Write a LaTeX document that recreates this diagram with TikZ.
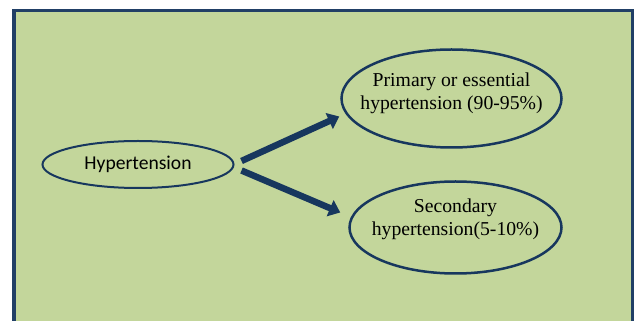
\documentclass[tikz,border=0pt]{standalone}
\usepackage{fontspec}
\setmainfont{Liberation Serif}
\newfontfamily\calfont{Carlito}
\usetikzlibrary{shapes.geometric,arrows.meta,calc}
\definecolor{bgGreen}{HTML}{C3D69B}
\definecolor{frameBlue}{HTML}{213F66}
\definecolor{inkBlue}{HTML}{17375E}
\tikzset{
  ell/.style={ellipse, draw=inkBlue, inner sep=0pt},
  serifText/.style={align=center, font=\fontsize{19.7}{22.8}\selectfont, inner sep=0pt},
  bigArrow/.style={draw=inkBlue, line width=6.5pt, -{Triangle[length=11pt,width=17pt]}}
}
\begin{document}
\begin{tikzpicture}[x=1pt,y=1pt]
  \useasboundingbox (0,0) rectangle (635,321);
  \fill[white] (0,0) rectangle (635,321);
  \begin{scope}
    \clip (0,0) rectangle (635,321);
    \fill[bgGreen] (14,-10) rectangle (632.5,310.7);
    \draw[frameBlue, line width=3.3pt] (14,-10) -- (14,310.7) -- (632.5,310.7) -- (632.5,-10);
  \end{scope}

  \node[ell, line width=2pt, minimum width=191pt, minimum height=47pt,
        font=\calfont\fontsize{19.6}{22}\selectfont] (hyp) at (138,156.5) {Hypertension};
  \node[ell, line width=2.5pt, minimum width=220pt, minimum height=98pt] (prim) at (451.5,222.5) {};
  \node[ell, line width=2.5pt, minimum width=212pt, minimum height=92pt] (sec) at (455.5,93.5) {};

  \node[serifText] (primT) at ($(prim.center)+(0,5)$) {Primary or essential\\hypertension (90-95\%)};
  \node[serifText] (secT) at ($(sec.center)+(0,8)$) {Secondary\\hypertension(5-10\%)};

  \draw[bigArrow] ($(hyp.east)+(7,3.5)$) -- ($(prim.west)+(-1,-18)$);
  \draw[bigArrow] ($(hyp.east)+(7,-6)$) -- ($(sec.west)+(-8,15)$);
\end{tikzpicture}
\end{document}
